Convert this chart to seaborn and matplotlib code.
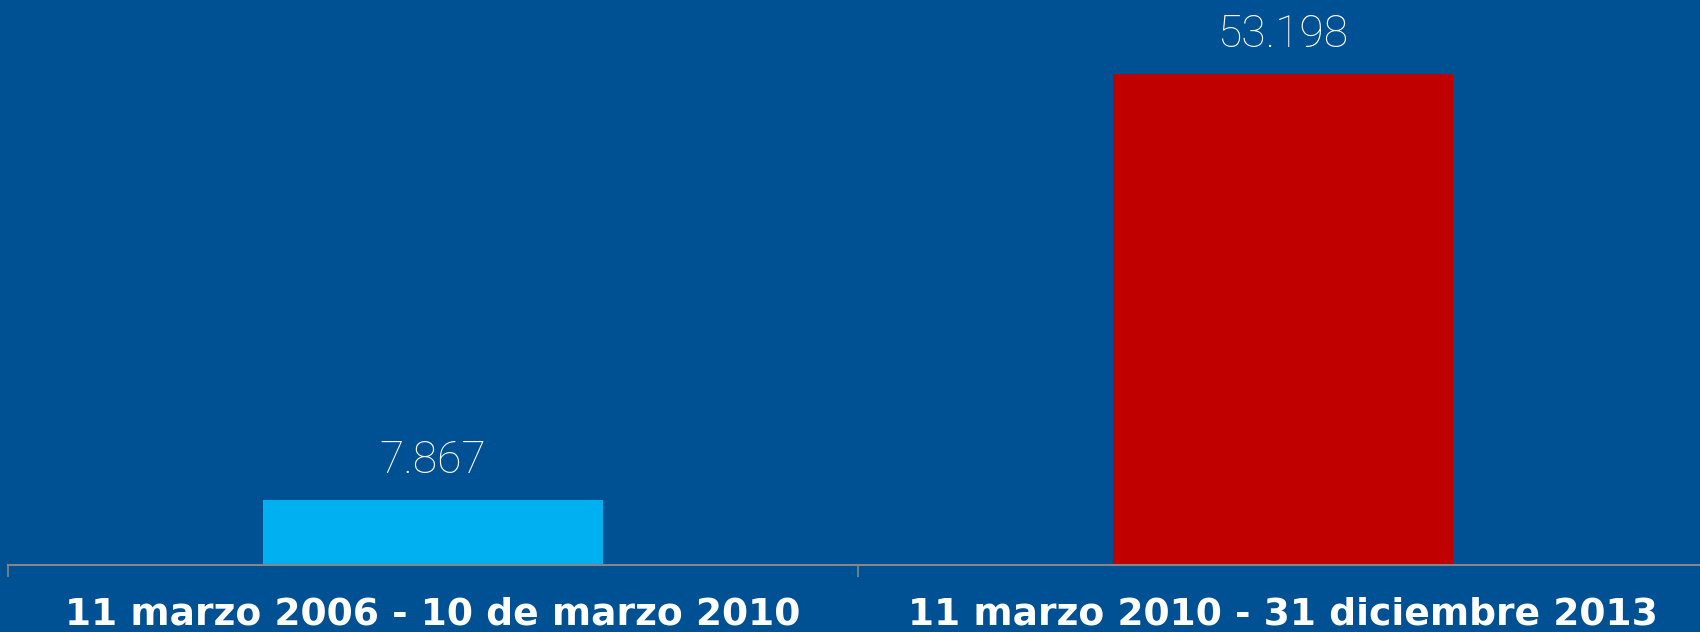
import matplotlib
matplotlib.use('Agg')
import matplotlib.pyplot as plt
import seaborn as sns
import pandas as pd

# datos
periodos = ['11 marzo 2006 - 10 de marzo 2010', '11 marzo 2010 - 31 diciembre 2013']
valores = [7867, 53198]
colores = ['#00B0F0', '#C00000']

FONDO = '#005094'
GRIS = '#868686'

df = pd.DataFrame({'periodo': periodos, 'valor': valores})

sns.set_style('white')

fig = plt.figure(figsize=(17, 6.32), dpi=100, facecolor=FONDO)
ax = fig.add_axes([8 / 1700, 67 / 632, 1.0, 565 / 632])
ax.set_facecolor(FONDO)

sns.barplot(data=df, x='periodo', y='valor', hue='periodo', palette=colores,
            width=0.4, legend=False, ax=ax, saturation=1, linewidth=0, edgecolor='none')

# etiquetas de valor con punto de miles
for barra in ax.patches:
    xc = barra.get_x() + barra.get_width() / 2
    alto = barra.get_height()
    texto = f'{int(round(alto)):,}'.replace(',', '.')
    ax.annotate(texto, (xc, alto), xytext=(0, 19.5), textcoords='offset points',
                ha='center', va='baseline', fontsize=32, color='white',
                family='Roboto', fontweight='light')

ax.set_xlim(-0.5, 1.5)
ax.set_ylim(1000, 61030)

# ticks entre categorías (estilo Excel) y etiquetas centradas
ax.set_xticks([-0.5, 0.5, 1.5])
ax.set_xticklabels([])
ax.set_xticks([0, 1], minor=True)
ax.set_xticklabels(periodos, minor=True, fontsize=27.1, fontweight='bold',
                   color='white', family='DejaVu Sans')
ax.tick_params(axis='x', which='major', bottom=True, length=8.6, width=1.2,
               color=GRIS, direction='out')
ax.tick_params(axis='x', which='minor', bottom=True, length=0, pad=23)
ax.set_yticks([])
ax.set_xlabel('')
ax.set_ylabel('')

for s in ['top', 'right', 'left']:
    ax.spines[s].set_visible(False)
ax.spines['bottom'].set_color(GRIS)
ax.spines['bottom'].set_linewidth(1.5)

fig.savefig('out.png', dpi=100, facecolor=FONDO)
